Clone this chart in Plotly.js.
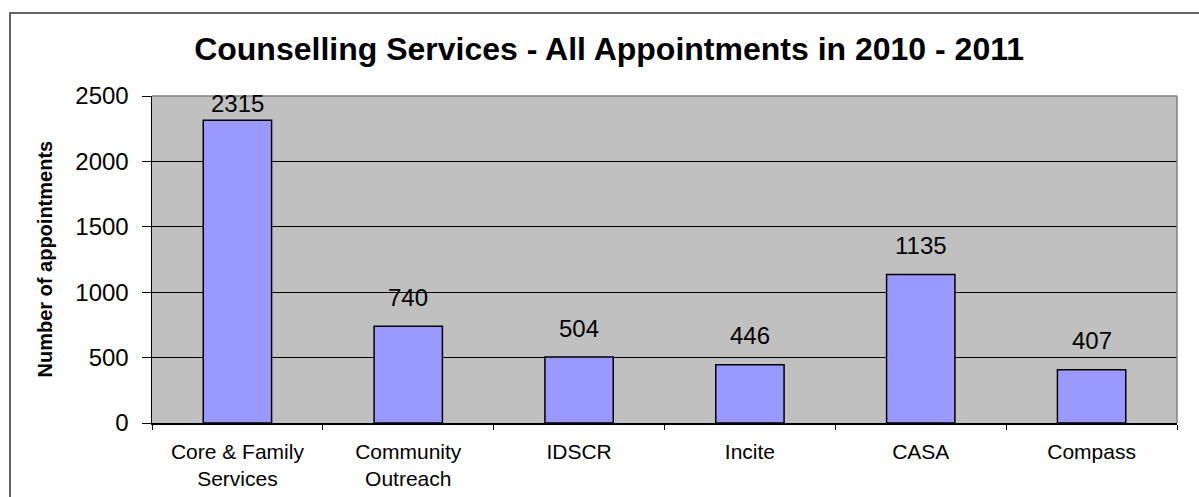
<!DOCTYPE html>
<html>
<head>
<meta charset="utf-8">
<script src="https://cdn.plot.ly/plotly-3.0.1.min.js"></script>
<style>
html,body{margin:0;padding:0;background:#fff;}
#chart{width:1199px;height:497px;}
</style>
</head>
<body>
<div id="chart"></div>
<script>
const categories = ["Core & Family<br>Services", "Community<br>Outreach", "IDSCR", "Incite", "CASA", "Compass"];
const appointments = [2315, 740, 504, 446, 1135, 407];
const yTicks = [0, 500, 1000, 1500, 2000, 2500];
const yMax = 2500;

const W = 1199, H = 497;
const L = 152, R = 22, T = 96, B = 74;
const pw = W - L - R, ph = H - T - B;
function px(x){ return (x - L) / pw; }
function py(y){ return (H - B - y) / ph; }

const trace = {
  type: 'bar',
  x: categories,
  y: appointments,
  marker: {color: '#9999FF', line: {color: '#000', width: 1.5}},
  width: 0.4,
  hoverinfo: 'none'
};

// data labels: sit above bars, but kept inside the plot area (like Excel)
const labelAnns = appointments.map((v, i) => {
  const distToTop = (yMax - v) * ph / yMax;
  return {
    x: categories[i], y: v, xref: 'x', yref: 'y',
    text: String(v), showarrow: false,
    xanchor: 'center', yanchor: 'middle',
    yshift: Math.min(29, distToTop - 7),
    font: {size: 24, color: '#000'}
  };
});

const layout = {
  width: W, height: H,
  margin: {l: L, r: R, t: T, b: B, pad: 0},
  paper_bgcolor: '#fff',
  plot_bgcolor: '#C0C0C0',
  showlegend: false,
  font: {family: 'Liberation Sans, Arial, sans-serif', color: '#000'},
  title: {
    text: '<b>Counselling Services - All Appointments in 2010 - 2011</b>',
    font: {size: 32, color: '#000'},
    x: 0.508, xanchor: 'center', y: 1 - 49/H, yanchor: 'middle'
  },
  xaxis: {
    type: 'category',
    tickson: 'boundaries',
    ticks: 'outside', ticklen: 5, tickcolor: '#000', tickwidth: 1,
    ticklabelstandoff: 9,
    showline: true, linecolor: '#000', linewidth: 1.5,
    showgrid: false,
    tickfont: {size: 21, color: '#000'},
    fixedrange: true
  },
  yaxis: {
    range: [0, yMax],
    tickvals: yTicks,
    ticktext: yTicks.map(String),
    ticks: 'outside', ticklen: 9, tickcolor: '#000', tickwidth: 1,
    ticklabelstandoff: 8,
    showline: true, linecolor: '#000', linewidth: 1.5,
    showgrid: true, gridcolor: '#000', gridwidth: 1,
    zeroline: false,
    tickfont: {size: 24, color: '#000'},
    fixedrange: true
  },
  annotations: [
    {text: '<b>Number of appointments</b>', xref: 'paper', yref: 'paper', x: px(44), y: 0.5,
     xanchor: 'center', yanchor: 'middle', textangle: -90, showarrow: false,
     font: {size: 20, color: '#000'}}
  ].concat(labelAnns),
  shapes: [
    {type: 'line', xref: 'paper', yref: 'paper', x0: 0, x1: 1, y0: 1, y1: 1, line: {color: '#808080', width: 1.5}},
    {type: 'line', xref: 'paper', yref: 'paper', x0: 1, x1: 1, y0: 0, y1: 1, line: {color: '#808080', width: 1.5}},
    {type: 'rect', xref: 'paper', yref: 'paper', x0: px(10), x1: px(1205), y0: py(505), y1: py(13), line: {color: '#333', width: 1.5}, fillcolor: 'rgba(0,0,0,0)', layer: 'below'}
  ]
};

Plotly.newPlot('chart', [trace], layout, {displayModeBar: false, staticPlot: true});
</script>
</body>
</html>
